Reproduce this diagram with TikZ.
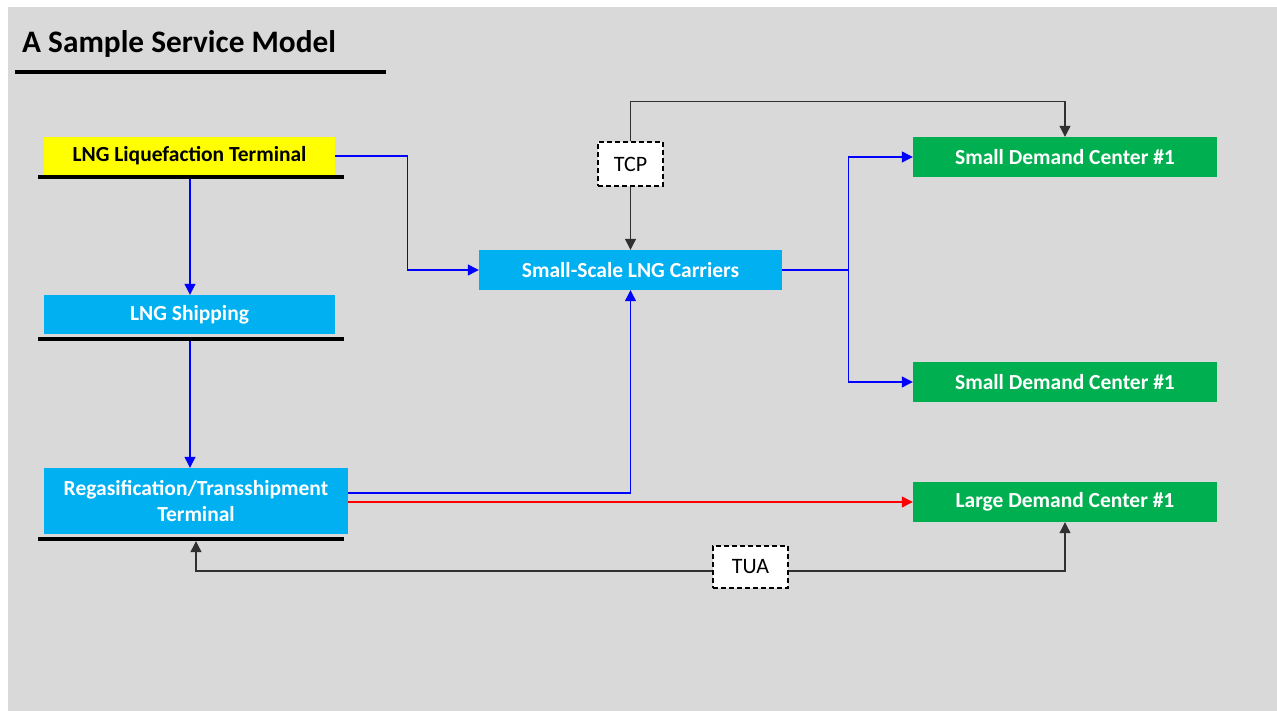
\documentclass[tikz,border=0pt]{standalone}
\usepackage{fontspec}
\setmainfont{Carlito}
\usetikzlibrary{arrows.meta,calc}
\definecolor{bgray}{HTML}{D9D9D9}
\definecolor{lngyellow}{HTML}{FFFF00}
\definecolor{lngcyan}{HTML}{00B0F0}
\definecolor{lnggreen}{HTML}{00B050}
\definecolor{flowblue}{HTML}{0000FF}
\definecolor{flowred}{HTML}{FF0000}
\definecolor{ctrl}{HTML}{303030}
\tikzset{
  boxtext/.style={font=\fontsize{21.5}{26}\selectfont\bfseries},
  stagebox/.style={rectangle, inner sep=0pt, align=center, boxtext},
  liqbox/.style={stagebox, fill=lngyellow, text=black},
  cyanbox/.style={stagebox, fill=lngcyan, text=white},
  greenbox/.style={stagebox, fill=lnggreen, text=white, minimum width=304pt, minimum height=40pt},
  groundbar/.style={rectangle, fill=black, inner sep=0pt, minimum width=306pt, minimum height=4pt},
  ctrlbox/.style={rectangle, draw=black, fill=white, dashed, dash pattern=on 5pt off 3pt, line width=1.5pt, inner sep=0pt, font=\fontsize{22}{26}\selectfont},
  tip/.style={-{Triangle[length=11pt,width=11pt]}},
  blueflow/.style={draw=flowblue, line width=1.2pt},
  redflow/.style={draw=flowred, line width=1.2pt},
  ctrlflow/.style={draw=ctrl, line width=1.1pt},
}
\begin{document}
\begin{tikzpicture}[x=1pt,y=-1pt]
\useasboundingbox (0,0) rectangle (1277,711);
\fill[white] (0,0) rectangle (1277,711);
\fill[bgray] (8,7) rectangle (1277,711);

% title
\node[anchor=base west, inner sep=0pt, font=\fontsize{31.3}{36}\selectfont\bfseries] (title) at (22,53) {A Sample Service Model};
\draw[line width=4pt] (15,72) -- (386,72);

% left column
\node[liqbox, minimum width=291pt, minimum height=38pt] (liq) at (189.5,156) {LNG Liquefaction Terminal};
\node[groundbar] (liqbar) at (191,177) {};
\node[cyanbox, minimum width=291pt, minimum height=39pt] (ship) at (189.5,314.5) {LNG Shipping};
\node[groundbar] (shipbar) at (191,339) {};
\node[cyanbox, minimum width=304pt, minimum height=66pt] (regas) at (196,501) {Regasification/Transshipment\\Terminal};
\node[groundbar] (regasbar) at (191,539) {};

% middle
\node[cyanbox, minimum width=303pt, minimum height=40pt] (carriers) at (630.5,270) {Small-Scale LNG Carriers};
\node[ctrlbox, minimum width=65pt, minimum height=44pt] (tcp) at (630.5,164) {TCP};
\node[ctrlbox, minimum width=75pt, minimum height=42pt] (tua) at (750.5,567) {TUA};

% right column
\node[greenbox] (small1) at (1065,157) {Small Demand Center \#1};
\node[greenbox] (small2) at (1065,382) {Small Demand Center \#1};
\node[greenbox] (large) at (1065,502) {Large Demand Center \#1};

% flows
\draw[blueflow, tip] (liqbar.south -| 190,0) -- (ship.north -| 190,0);
\draw[blueflow, tip] (shipbar.south -| 190,0) -- (regas.north -| 190,0);
\draw[blueflow, tip] (liq.east) -- ++(72,0) |- (carriers.west);
\draw[blueflow, tip] ([yshift=8pt]regas.east) -| (carriers.south);
\draw[redflow, tip] ([yshift=-1pt]regas.east) -- (large.west);
\draw[blueflow] (carriers.east) -- ++(66,0) coordinate (split);
\draw[blueflow, tip] (split) |- (small1.west);
\draw[blueflow, tip] (split) |- (small2.west);

% control links
\draw[ctrlflow, tip] (tcp.south) -- (carriers.north);
\draw[ctrlflow, tip] (tcp.north) -- ++(0,-40) -| (small1.north);
\draw[ctrlflow, tip] ([yshift=-4pt]tua.west) -| (regas.south |- regasbar.south);
\draw[ctrlflow, tip] ([yshift=-4pt]tua.east) -| (large.south);
\end{tikzpicture}
\end{document}
